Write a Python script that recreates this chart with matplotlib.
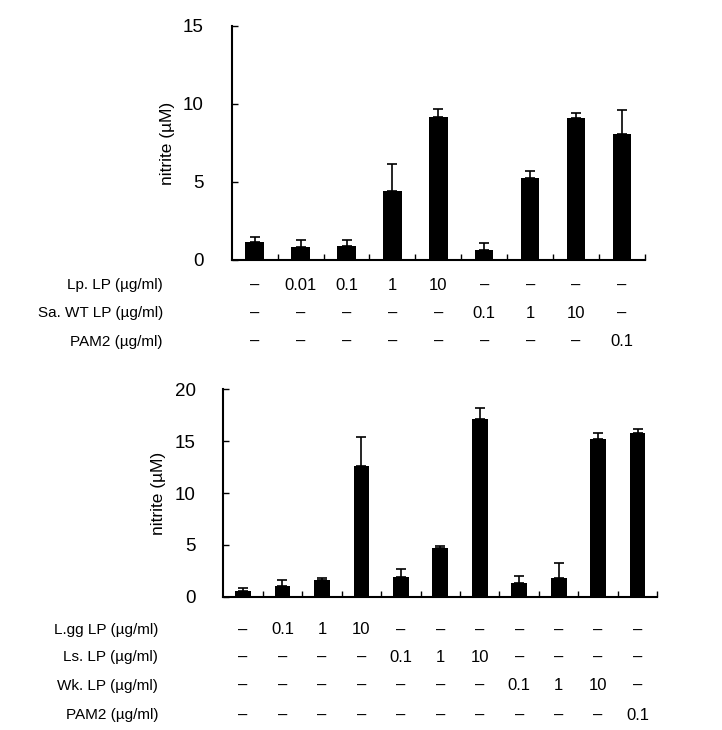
import matplotlib
matplotlib.use("Agg")
import matplotlib.pyplot as plt
import numpy as np

plt.rcParams['font.family'] = ['Liberation Sans', 'DejaVu Sans']

# ---- Top panel data ----
top_values = [1.13, 0.83, 0.88, 4.42, 9.17, 0.64, 5.26, 9.10, 8.08]
top_errors = [0.37, 0.43, 0.38, 1.76, 0.49, 0.47, 0.47, 0.34, 1.54]
top_row_labels = ["Lp. LP (\u00b5g/ml)", "Sa. WT LP (\u00b5g/ml)", "PAM2 (\u00b5g/ml)"]
top_rows = [
    ["\u2013", "0.01", "0.1", "1", "10", "\u2013", "\u2013", "\u2013", "\u2013"],
    ["\u2013", "\u2013", "\u2013", "\u2013", "\u2013", "0.1", "1", "10", "\u2013"],
    ["\u2013", "\u2013", "\u2013", "\u2013", "\u2013", "\u2013", "\u2013", "\u2013", "0.1"],
]
top_yticks = [0, 5, 10, 15]

# ---- Bottom panel data ----
bot_values = [0.55, 1.03, 1.64, 12.64, 1.93, 4.73, 17.10, 1.35, 1.77, 15.18, 15.76]
bot_errors = [0.25, 0.61, 0.16, 2.76, 0.71, 0.19, 1.13, 0.61, 1.51, 0.64, 0.41]
bot_row_labels = ["L.gg LP (\u00b5g/ml)", "Ls. LP (\u00b5g/ml)", "Wk. LP (\u00b5g/ml)", "PAM2 (\u00b5g/ml)"]
bot_rows = [
    ["\u2013", "0.1", "1", "10", "\u2013", "\u2013", "\u2013", "\u2013", "\u2013", "\u2013", "\u2013"],
    ["\u2013", "\u2013", "\u2013", "\u2013", "0.1", "1", "10", "\u2013", "\u2013", "\u2013", "\u2013"],
    ["\u2013", "\u2013", "\u2013", "\u2013", "\u2013", "\u2013", "\u2013", "0.1", "1", "10", "\u2013"],
    ["\u2013", "\u2013", "\u2013", "\u2013", "\u2013", "\u2013", "\u2013", "\u2013", "\u2013", "\u2013", "0.1"],
]
bot_yticks = [0, 5, 10, 15, 20]

W, H = 722, 730
fig = plt.figure(figsize=(W / 100, H / 100), dpi=100)

table_font = ['Liberation Sans', 'DejaVu Sans']


def panel(rect, values, errors, yticks, row_labels, rows, row_ys, label_right):
    ax = fig.add_axes(rect)
    n = len(values)
    x = np.arange(n)
    ax.bar(x, values, width=0.4, color='black', zorder=2)
    ax.errorbar(x, values, yerr=[np.zeros(n), errors], fmt='none',
                ecolor='black', elinewidth=1.2, capsize=3.5, capthick=1.2, zorder=3)
    ax.set_xlim(-0.5, n - 0.5)
    ax.set_ylim(yticks[0], yticks[-1])
    ax.set_yticks(yticks)
    ax.set_yticklabels([str(t) for t in yticks], fontsize=13.5)
    ax.set_xticks(np.arange(n) + 0.5)
    ax.set_xticklabels([])
    ax.tick_params(axis='y', direction='in', length=4, width=1, pad=20)
    ax.tick_params(axis='x', direction='in', length=4, width=1)
    for s in ['top', 'right']:
        ax.spines[s].set_visible(False)
    for s in ['left', 'bottom']:
        ax.spines[s].set_linewidth(1.5)
    ax.set_ylabel("nitrite (\u00b5M)", fontsize=12.5, labelpad=6)
    # table beneath the axis
    for lbl, vals, yy in zip(row_labels, rows, row_ys):
        fig.text(label_right / W, 1 - yy / H, lbl, ha='right', va='center',
                 fontsize=11, family=table_font)
        for i, v in enumerate(vals):
            xd = ax.transData.transform((i, 0))[0]
            fig.text(xd / W, 1 - yy / H, v, ha='center', va='center',
                     fontsize=12, family=table_font)
    return ax


ax1 = panel([231.7 / W, 1 - 260 / H, 413.3 / W, 234 / H],
            top_values, top_errors, top_yticks, top_row_labels, top_rows,
            [285, 313.3, 341.7], 163)
ax2 = panel([223.3 / W, 1 - 596.7 / H, 434 / W, 207.3 / H],
            bot_values, bot_errors, bot_yticks, bot_row_labels, bot_rows,
            [630, 657.3, 685.7, 715], 158)

fig.savefig("out.png", dpi=100)
